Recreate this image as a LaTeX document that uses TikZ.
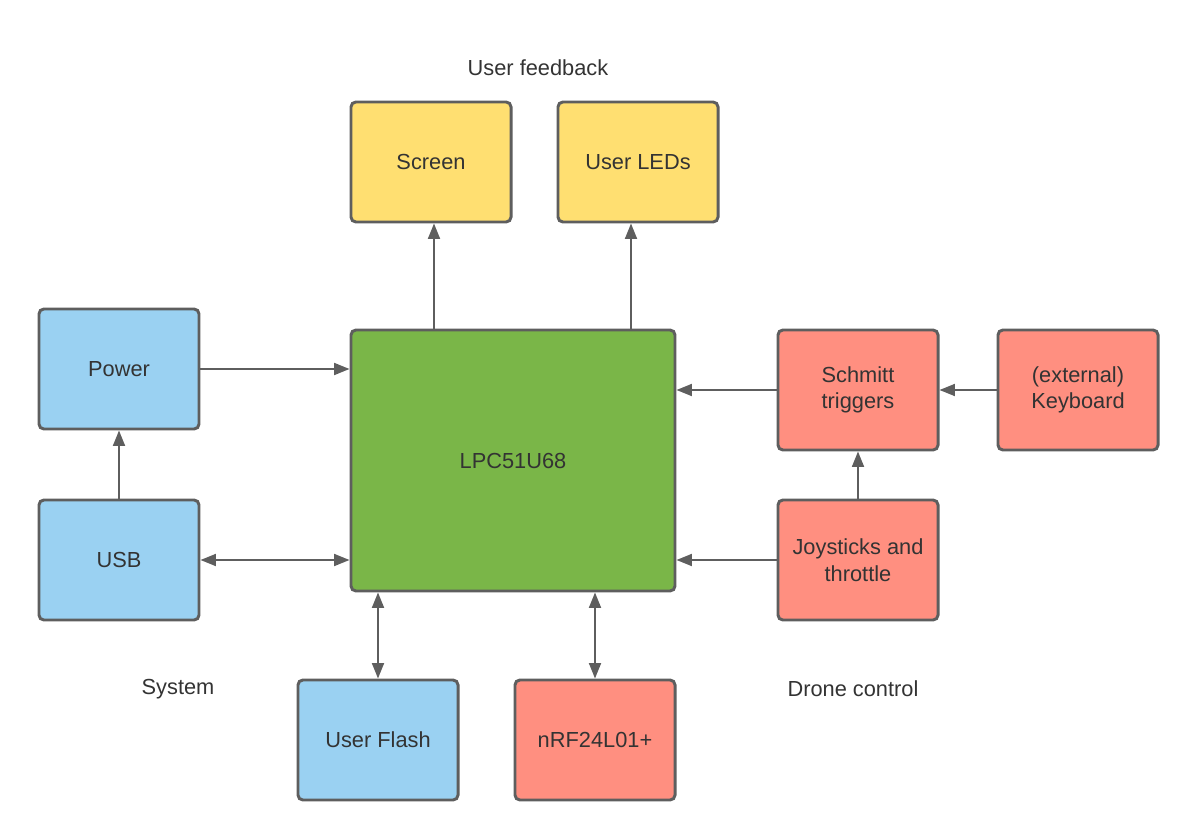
\documentclass[tikz,border=0pt]{standalone}
\usepackage{fontspec}
\setmainfont{Liberation Sans}
\usetikzlibrary{arrows.meta}
\definecolor{bordc}{HTML}{5E5E5E}
\definecolor{greenc}{HTML}{7AB648}
\definecolor{yellowc}{HTML}{FFDF71}
\definecolor{bluec}{HTML}{9AD1F2}
\definecolor{redc}{HTML}{FF8F80}
\definecolor{txtc}{HTML}{333333}
\tikzset{
  blk/.style={draw=bordc, line width=2.1pt, rounded corners=3.5pt, text=txtc, align=center, inner sep=0pt,
    minimum width=4cm, minimum height=3cm},
  conn/.style={draw=bordc, line width=1.4pt, -{Triangle[length=11pt,width=8.5pt]}},
  biconn/.style={draw=bordc, line width=1.4pt, {Triangle[length=11pt,width=8.5pt]}-{Triangle[length=11pt,width=8.5pt]}},
  lbl/.style={text=txtc, inner sep=0pt}
}
\begin{document}
\begin{tikzpicture}[x=0.025cm,y=-0.025cm, font=\fontsize{15.5}{19}\selectfont]
\useasboundingbox (0,0) rectangle (1199,840);
\node[blk, fill=yellowc] (screen) at (431,162) {Screen};
\node[blk, fill=yellowc] (leds) at (638,162) {User LEDs};
\node[blk, fill=bluec] (power) at (119,369) {Power};
\node[blk, fill=bluec] (usb) at (119,560) {USB};
\node[blk, fill=greenc, minimum width=324*0.025cm, minimum height=261*0.025cm] (lpc) at (513,460.5) {LPC51U68};
\node[blk, fill=redc] (schmitt) at (858,390) {Schmitt\\triggers};
\node[blk, fill=redc] (kbd) at (1078,390) {(external)\\Keyboard};
\node[blk, fill=redc] (joy) at (858,560) {Joysticks and\\throttle};
\node[blk, fill=bluec] (flash) at (378,740) {User Flash};
\node[blk, fill=redc] (nrf) at (595,740) {nRF24L01+};
\node[lbl] (fb) at (538,68) {User feedback};
\node[lbl] (sys) at (178,689) {System};
\node[lbl] (drone) at (853,689) {Drone control};
% connectors
\coordinate (s1) at (434,0);
\coordinate (l1) at (631,0);
\draw[conn] (lpc.north -| s1) -- (screen.south -| s1);
\draw[conn] (lpc.north -| l1) -- (leds.south -| l1);
\draw[conn] (power.east) -- (lpc.west |- power.east);
\draw[biconn] (usb.east) -- (lpc.west |- usb.east);
\draw[conn] (schmitt.west) -- (lpc.east |- schmitt.west);
\draw[conn] (kbd.west) -- (schmitt.east);
\draw[conn] (joy.west) -- (lpc.east |- joy.west);
\draw[conn] (joy.north) -- (schmitt.south);
\draw[conn] (usb.north) -- (power.south);
\draw[biconn] (flash.north) -- (lpc.south -| flash.north);
\draw[biconn] (nrf.north) -- (lpc.south -| nrf.north);
\end{tikzpicture}
\end{document}
